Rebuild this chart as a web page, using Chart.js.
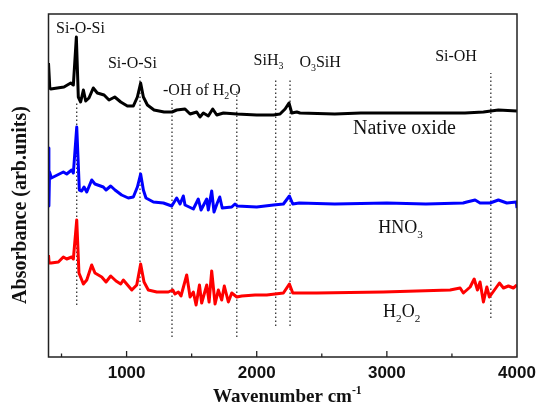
<!DOCTYPE html>
<html>
<head>
<meta charset="utf-8">
<script src="https://cdn.jsdelivr.net/npm/chart.js@4"></script>
<style>
  html, body { margin: 0; padding: 0; background: #fff; }
  canvas { display: block; }
</style>
</head>
<body>
<canvas id="ftirChart" width="537" height="407"></canvas>
<script>
// FTIR spectra (stacked, arbitrary units)
const nativeWn = [400, 410, 417, 519, 571, 591, 614, 629, 647, 668, 686, 711, 744, 775, 827, 865, 909, 955, 1006, 1052, 1083, 1108, 1129, 1160, 1211, 1288, 1349, 1385, 1449, 1488, 1539, 1564, 1590, 1628, 1662, 1693, 1744, 1847, 2000, 2128, 2179, 2218, 2248, 2269, 2308, 2333, 2600, 2800, 2973, 3230, 3400, 3600, 3742, 3857, 4000];
const nativeAbs = [2.94, 2.69, 2.68, 2.70, 2.74, 2.72, 3.20, 2.60, 2.55, 2.67, 2.56, 2.59, 2.69, 2.64, 2.62, 2.57, 2.60, 2.55, 2.51, 2.51, 2.60, 2.74, 2.60, 2.52, 2.47, 2.45, 2.45, 2.47, 2.48, 2.43, 2.45, 2.40, 2.44, 2.41, 2.48, 2.42, 2.44, 2.43, 2.42, 2.42, 2.43, 2.48, 2.54, 2.44, 2.45, 2.44, 2.43, 2.44, 2.44, 2.44, 2.44, 2.44, 2.45, 2.47, 2.46];

const hno3Wn = [400, 403, 408, 422, 514, 540, 578, 591, 617, 637, 655, 673, 694, 732, 757, 821, 842, 878, 911, 962, 1013, 1052, 1083, 1108, 1129, 1149, 1206, 1283, 1347, 1385, 1411, 1436, 1449, 1513, 1551, 1572, 1616, 1628, 1654, 1672, 1697, 1716, 1735, 1808, 1833, 1850, 2000, 2128, 2205, 2251, 2277, 2327, 2600, 3000, 3300, 3586, 3614, 3678, 3716, 3793, 3857, 3922, 3995, 4000];
const hno3Abs = [2.09, 1.51, 1.85, 1.79, 1.85, 1.83, 1.87, 1.84, 2.30, 1.67, 1.66, 1.70, 1.65, 1.77, 1.73, 1.70, 1.67, 1.71, 1.67, 1.62, 1.59, 1.60, 1.70, 1.83, 1.67, 1.59, 1.55, 1.54, 1.51, 1.59, 1.53, 1.61, 1.52, 1.48, 1.58, 1.47, 1.58, 1.47, 1.66, 1.45, 1.54, 1.60, 1.49, 1.50, 1.53, 1.51, 1.50, 1.52, 1.53, 1.61, 1.53, 1.54, 1.53, 1.54, 1.53, 1.54, 1.55, 1.57, 1.54, 1.54, 1.57, 1.54, 1.55, 1.49];

const h2o2Wn = [400, 405, 420, 476, 514, 540, 578, 591, 617, 634, 668, 694, 732, 757, 809, 842, 878, 919, 955, 975, 1040, 1078, 1108, 1134, 1167, 1232, 1321, 1355, 1372, 1398, 1418, 1462, 1488, 1513, 1534, 1560, 1577, 1616, 1634, 1654, 1680, 1705, 1731, 1751, 1782, 1808, 1847, 1885, 1987, 2077, 2205, 2251, 2277, 2461, 2973, 3486, 3563, 3588, 3640, 3671, 3696, 3716, 3742, 3768, 3788, 3832, 3865, 3896, 3934, 3972, 4000];
const h2o2Abs = [1.02, 0.94, 0.94, 0.95, 1.00, 0.98, 1.00, 0.98, 1.37, 0.84, 0.73, 0.77, 0.92, 0.84, 0.80, 0.75, 0.81, 0.76, 0.73, 0.77, 0.67, 0.72, 0.93, 0.75, 0.67, 0.65, 0.65, 0.67, 0.63, 0.65, 0.61, 0.82, 0.60, 0.65, 0.52, 0.72, 0.54, 0.72, 0.55, 0.86, 0.53, 0.67, 0.57, 0.71, 0.55, 0.64, 0.60, 0.61, 0.62, 0.62, 0.64, 0.73, 0.64, 0.64, 0.65, 0.67, 0.69, 0.64, 0.70, 0.78, 0.67, 0.75, 0.55, 0.70, 0.60, 0.68, 0.74, 0.69, 0.71, 0.69, 0.72];

// band markers (dotted lines)
const bandWn = [617, 1103, 1349, 1847, 2146, 2256, 3799];
const bandTop = [2.55, 2.80, 2.57, 2.67, 2.77, 2.77, 2.84];
const bandBottom = [0.52, 0.35, 0.20, 0.20, 0.31, 0.31, 0.39];

const xTickValues = [500, 1000, 1500, 2000, 2500, 3000, 3500, 4000];
const xTickLabels = [1000, 2000, 3000, 4000];

function toPoints(xs, ys) {
    return xs.map((x, i) => ({ x: x, y: ys[i] }));
}

const datasets = [
    { label: 'Native oxide', data: toPoints(nativeWn, nativeAbs), borderColor: '#000000' },
    { label: 'HNO3', data: toPoints(hno3Wn, hno3Abs), borderColor: '#0000ff' },
    { label: 'H2O2', data: toPoints(h2o2Wn, h2o2Abs), borderColor: '#ff0000' }
].map(d => Object.assign(d, { borderWidth: 3, pointRadius: 0, tension: 0, borderJoinStyle: 'round', fill: false }));

bandWn.forEach((wn, i) => {
    datasets.push({
        label: 'band' + i,
        data: [{ x: wn, y: bandBottom[i] }, { x: wn, y: bandTop[i] }],
        borderColor: '#222222',
        borderWidth: 1.2,
        borderDash: [1.5, 2.5],
        pointRadius: 0,
        fill: false
    });
});

// text with sub/superscripts: runs = [[text, mode]]
function drawRuns(ctx, runs, x, y, size, weight) {
    let cx = x;
    runs.forEach(([txt, mode]) => {
        let s = size, dy = 0;
        if (mode === 'sub') { s = size * 0.62; dy = size * 0.25; }
        if (mode === 'sup') { s = size * 0.62; dy = -size * 0.42; }
        ctx.font = (weight || '') + ' ' + s + 'px "Liberation Serif", "Times New Roman", serif';
        ctx.fillText(txt, cx, y + dy);
        cx += ctx.measureText(txt).width;
    });
    return cx - x;
}

const annotations = [
    { wn: 458, abs: 3.24, size: 16, runs: [['Si-O-Si', '']] },
    { wn: 857, abs: 2.89, size: 16, runs: [['Si-O-Si', '']] },
    { wn: 1280, abs: 2.62, size: 16, runs: [['-OH of H', ''], ['2', 'sub'], ['O', '']] },
    { wn: 1976, abs: 2.92, size: 16, runs: [['SiH', ''], ['3', 'sub']] },
    { wn: 2328, abs: 2.90, size: 16, runs: [['O', ''], ['3', 'sub'], ['SiH', '']] },
    { wn: 3371, abs: 2.96, size: 16, runs: [['Si-OH', '']] },
    { wn: 2740, abs: 2.23, size: 20, runs: [['Native oxide', '']] },
    { wn: 2933, abs: 1.24, size: 18, runs: [['HNO', ''], ['3', 'sub']] },
    { wn: 2971, abs: 0.40, size: 18, runs: [['H', ''], ['2', 'sub'], ['O', ''], ['2', 'sub']] }
];

const framePlugin = {
    id: 'frame',
    afterDraw(chart) {
        const ctx = chart.ctx;
        const a = chart.chartArea;
        const xs = chart.scales.x, ys = chart.scales.y;
        ctx.save();
        // frame
        ctx.strokeStyle = '#222';
        ctx.lineWidth = 1.5;
        ctx.strokeRect(a.left, a.top, a.right - a.left, a.bottom - a.top);
        // inward tick marks
        ctx.lineWidth = 1.3;
        xs.ticks.forEach(t => {
            if (t.value <= xs.min || t.value >= xs.max) return;
            const len = t.value % 1000 === 0 ? 6 : 3.5;
            const px = xs.getPixelForValue(t.value);
            ctx.beginPath();
            ctx.moveTo(px, a.bottom);
            ctx.lineTo(px, a.bottom - len);
            ctx.stroke();
        });
        // band labels
        ctx.fillStyle = '#111';
        ctx.textBaseline = 'alphabetic';
        ctx.textAlign = 'left';
        annotations.forEach(n => {
            drawRuns(ctx, n.runs, xs.getPixelForValue(n.wn), ys.getPixelForValue(n.abs), n.size, '');
        });
        // x title
        const xRuns = [['Wavenumber cm', ''], ['-1', 'sup']];
        ctx.font = 'bold 19px "Liberation Serif", serif';
        const tw = ctx.measureText('Wavenumber cm').width + 11;
        drawRuns(ctx, xRuns, 288 - tw / 2, 402, 19, 'bold');
        // y title
        ctx.translate(26, 205);
        ctx.rotate(-Math.PI / 2);
        ctx.textAlign = 'center';
        ctx.font = 'bold 20px "Liberation Serif", serif';
        ctx.fillText('Absorbance (arb.units)', 0, 0);
        ctx.restore();
    }
};

new Chart(document.getElementById('ftirChart'), {
    type: 'line',
    data: { datasets: datasets },
    options: {
        responsive: false,
        animation: false,
        layout: { padding: { top: 14, right: 20, left: 0, bottom: 0 } },
        plugins: { legend: { display: false }, tooltip: { enabled: false } },
        scales: {
            x: {
                type: 'linear',
                min: 400,
                max: 4000,
                grid: { display: false, drawTicks: false },
                border: { display: false },
                afterBuildTicks: s => { s.ticks = xTickValues.map(v => ({ value: v })); },
                afterFit: s => { s.height = 50; s.paddingLeft = 0; s.paddingRight = 0; },
                ticks: {
                    autoSkip: false,
                    maxRotation: 0,
                    padding: 6,
                    color: '#111',
                    font: { family: '"Liberation Sans", Arial, sans-serif', size: 17, weight: 'bold' },
                    callback: v => xTickLabels.includes(v) ? String(v) : ''
                }
            },
            y: {
                min: 0,
                max: 3.43,
                grid: { display: false },
                border: { display: false },
                ticks: { display: false },
                afterFit: s => { s.width = 48.5; }
            }
        }
    },
    plugins: [framePlugin]
});
</script>
</body>
</html>
